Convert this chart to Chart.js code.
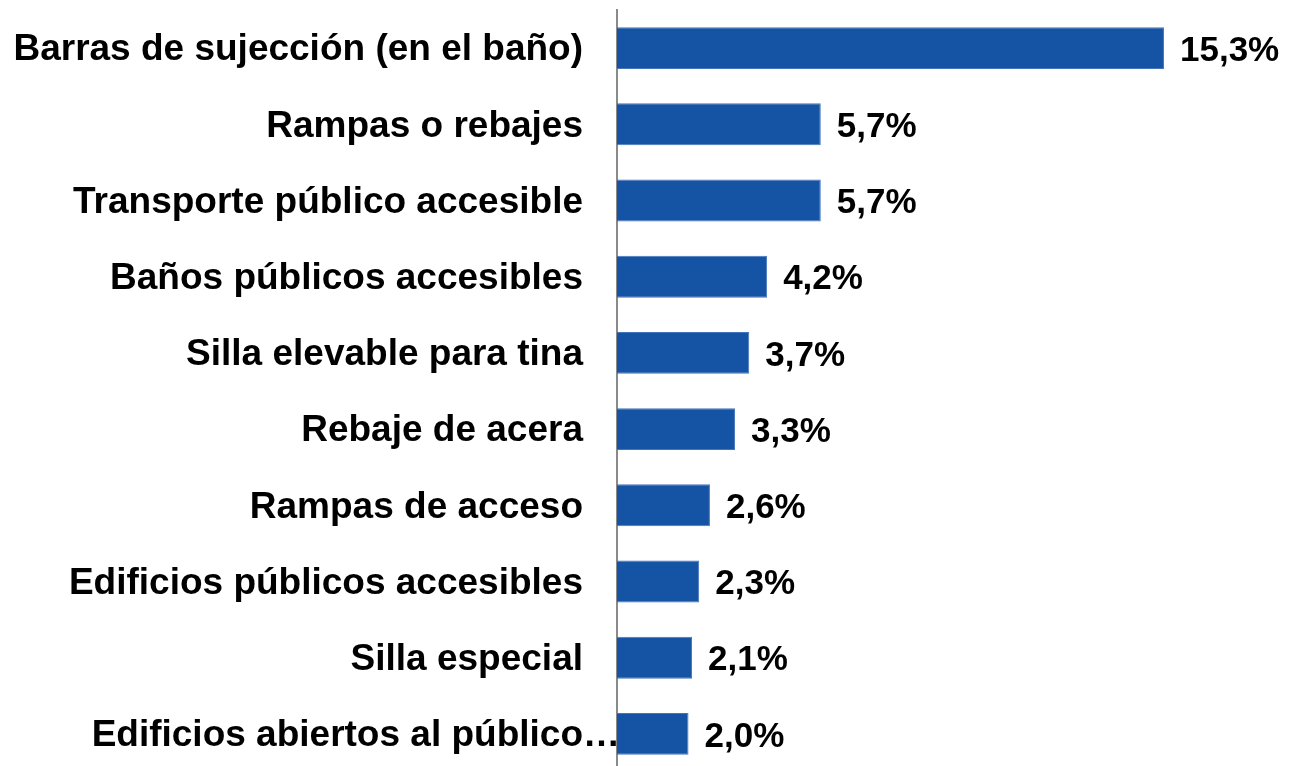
<!DOCTYPE html>
<html>
<head>
<meta charset="utf-8">
<script src="https://cdn.jsdelivr.net/npm/chart.js@4.4.0/dist/chart.umd.min.js"></script>
<style>
  html, body { margin: 0; padding: 0; background: #ffffff; overflow: hidden; }
  #wrap { position: absolute; left: 0; top: 0; width: 1289px; height: 772px; }
</style>
</head>
<body>
<div id="wrap"><canvas id="c"></canvas></div>
<script>
const categories = [
  "Barras de sujección (en el baño)",
  "Rampas o rebajes",
  "Transporte público accesible",
  "Baños públicos accesibles",
  "Silla elevable para tina",
  "Rebaje de acera",
  "Rampas de acceso",
  "Edificios públicos accesibles",
  "Silla especial",
  "Edificios abiertos al público…"
];
const values = [15.3, 5.7, 5.7, 4.2, 3.7, 3.3, 2.6, 2.3, 2.1, 2.0];
const xMin = 0;
const xMax = 18;

const FONT = '"Liberation Sans", Arial, sans-serif';

const valueLabels = {
  id: 'valueLabels',
  beforeDraw(chart) {
    try {
      const items = chart.scales.y.getLabelItems();
      items.forEach((it, i) => {
        if (it._shifted) return;
        it.options.translation[1] += 2;
        // the last (truncated) category label overflows to the right, as in the source
        if (i === items.length - 1) it.options.translation[0] += 37;
        it._shifted = true;
      });
    } catch (e) {}
  },
  afterDatasetsDraw(chart) {
    const ctx = chart.ctx;
    const meta = chart.getDatasetMeta(0);
    ctx.save();
    ctx.font = 'bold 35px ' + FONT;
    ctx.fillStyle = '#000000';
    ctx.textAlign = 'left';
    ctx.textBaseline = 'middle';
    meta.data.forEach((bar, i) => {
      const txt = values[i].toFixed(1).replace('.', ',') + '%';
      ctx.fillText(txt, bar.x + 16, bar.y + 3);
    });
    ctx.restore();
  }
};

new Chart(document.getElementById('c'), {
  type: 'bar',
  data: {
    labels: categories,
    datasets: [{
      data: values,
      backgroundColor: '#1553A5',
      borderColor: '#4475BA',
      borderWidth: 1,
      categoryPercentage: 1,
      barPercentage: 0.55
    }]
  },
  options: {
    indexAxis: 'y',
    responsive: true,
    maintainAspectRatio: false,
    animation: false,
    layout: { padding: { top: 10, right: 28.5, bottom: 0, left: 0 } },
    plugins: { legend: { display: false }, tooltip: { enabled: false } },
    scales: {
      x: { display: false, min: xMin, max: xMax },
      y: {
        afterFit(scale) {
          scale.width = 617;
          scale.paddingTop = 0;
          scale.paddingBottom = 0;
        },
        grid: { display: false, drawTicks: false },
        border: { display: true, color: '#8a8a8a', width: 2 },
        ticks: {
          padding: 34,
          color: '#000000',
          font: { family: FONT, size: 37, weight: 'bold' }
        }
      }
    }
  },
  plugins: [valueLabels]
});
</script>
</body>
</html>
